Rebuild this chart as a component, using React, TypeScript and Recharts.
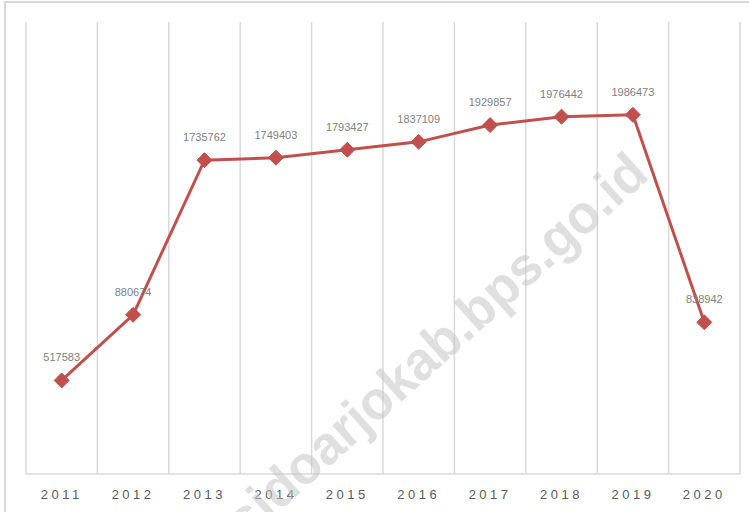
import React from "react";
import { LineChart, Line, XAxis, YAxis, CartesianGrid } from "recharts";

const years = ["2011", "2012", "2013", "2014", "2015", "2016", "2017", "2018", "2019", "2020"];
const values = [517583, 880674, 1735762, 1749403, 1793427, 1837109, 1929857, 1976442, 1986473, 838942];
const watermark = "sidoarjokab.bps.go.id";

const data = years.map((y, i) => ({ year: y, value: values[i] }));

const Diamond = (props: any) => {
  const { cx, cy, index } = props;
  if (cx == null || cy == null) return null;
  const r = 7.5;
  return (
    <polygon
      key={`d-${index}`}
      points={`${cx},${cy - r} ${cx + r},${cy} ${cx},${cy + r} ${cx - r},${cy}`}
      fill="#C0504D"
      stroke="#C0504D"
      strokeWidth={1}
    />
  );
};

export default function App() {
  return (
    <div
      style={{
        position: "fixed",
        left: 0,
        top: 0,
        width: 749,
        height: 512,
        overflow: "hidden",
        background: "#ffffff",
      }}
    >
      <div
        style={{
          position: "absolute",
          left: 4,
          top: 1,
          width: 800,
          height: 600,
          borderTop: "2px solid #d9d9d9",
          borderLeft: "2px solid #d9d9d9",
          boxSizing: "border-box",
        }}
      />
      <div style={{ position: "absolute", left: 0, top: 0 }}>
        <LineChart
          width={749}
          height={512}
          data={data}
          margin={{ top: 22, right: 9, left: 26, bottom: 0 }}
        >
          <CartesianGrid
            horizontal={false}
            stroke="#d9d9d9"
            strokeWidth={1.5}
            verticalCoordinatesGenerator={({ offset }: any) =>
              Array.from({ length: years.length + 1 }, (_, i) => offset.left + (i * offset.width) / years.length)
            }
          />
          <XAxis
            dataKey="year"
            scale="band"
            height={38}
            axisLine={{ stroke: "#d9d9d9", strokeWidth: 1.5 }}
            tickLine={false}
            tick={{ fill: "#595959", fontSize: 13, letterSpacing: 3.5, fontFamily: "Liberation Sans, Arial, sans-serif" }}
            tickMargin={10}
            interval={0}
          />
          <YAxis hide domain={[0, 2500000]} width={0} />
          <Line
            type="linear"
            dataKey="value"
            stroke="#C0504D"
            strokeWidth={3}
            dot={Diamond}
            activeDot={false}
            isAnimationActive={false}
            label={{
              position: "top",
              offset: 19,
              fill: "#808080",
              fontSize: 11,
              fontFamily: "Liberation Sans, Arial, sans-serif",
            }}
          />
        </LineChart>
      </div>
      <svg
        width={749}
        height={512}
        style={{ position: "absolute", left: 0, top: 0, pointerEvents: "none" }}
      >
        <text
          x={436}
          y={345}
          transform="rotate(-42 436 345)"
          textAnchor="middle"
          dominantBaseline="central"
          fontFamily="Liberation Sans, Arial, sans-serif"
          fontWeight="bold"
          fontSize={54}
          fill="#c4c4c4"
          fillOpacity={0.55}
          textLength={544}
          lengthAdjust="spacingAndGlyphs"
        >
          {watermark}
        </text>
      </svg>
    </div>
  );
}
